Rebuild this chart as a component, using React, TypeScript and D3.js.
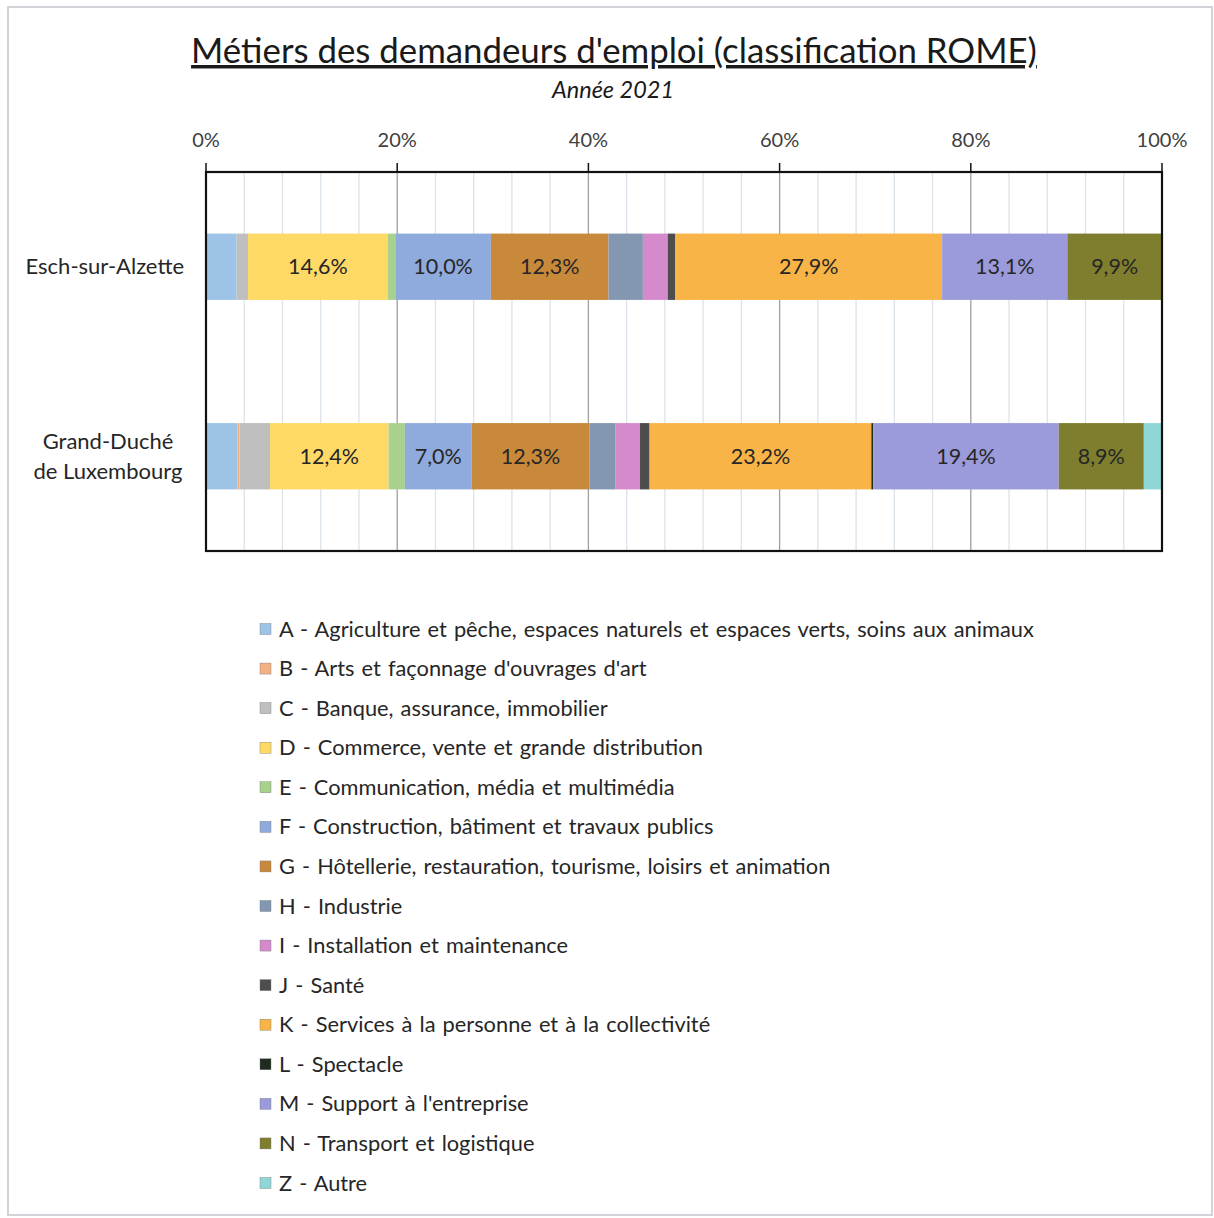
import React from 'react'
import * as d3 from 'd3'

const W = 1214
const H = 1218
const FONT = 'Lato, "Open Sans", sans-serif'

// categories (y axis)
const categories = ['Esch-sur-Alzette', 'Grand-Duché de Luxembourg']
const categoryLines = [['Esch-sur-Alzette'], ['Grand-Duché', 'de Luxembourg']]

// ROME codes, labels, colours
const codes = ['A', 'B', 'C', 'D', 'E', 'F', 'G', 'H', 'I', 'J', 'K', 'L', 'M', 'N', 'Z']
const legendLabels = [
  'A - Agriculture et pêche, espaces naturels et espaces verts, soins aux animaux',
  "B - Arts et façonnage d'ouvrages d'art",
  'C - Banque, assurance, immobilier',
  'D - Commerce, vente et grande distribution',
  'E - Communication, média et multimédia',
  'F - Construction, bâtiment et travaux publics',
  'G - Hôtellerie, restauration, tourisme, loisirs et animation',
  'H - Industrie',
  'I - Installation et maintenance',
  'J - Santé',
  'K - Services à la personne et à la collectivité',
  'L - Spectacle',
  "M - Support à l'entreprise",
  'N - Transport et logistique',
  'Z - Autre',
]
const colors = [
  '#9DC3E6', '#F4B183', '#BFBFBF', '#FFD966', '#A9D18E', '#8FAADC', '#C9893A',
  '#8497B0', '#D58BCB', '#4D4D4D', '#F9B447', '#1E2B1E', '#9B9BDB', '#7E7E2E', '#8FD6D6',
]

// shares in %
const eschValues = [3.2, 0.0, 1.2, 14.6, 0.8, 10.0, 12.3, 3.6, 2.6, 0.8, 27.9, 0.0, 13.1, 9.9, 0.0]
const gdlValues = [3.3, 0.2, 3.2, 12.4, 1.7, 7.0, 12.3, 2.7, 2.6, 1.0, 23.2, 0.2, 19.4, 8.9, 1.9]
const seriesValues = [eschValues, gdlValues]

// only these segments carry a value label
const labeledCodes = ['D', 'F', 'G', 'K', 'M', 'N']

const majorTicks = [0, 20, 40, 60, 80, 100]
const minorTicks = d3.range(0, 101, 4)

export default function App() {
  const plot = { left: 206, right: 1162, top: 172, bottom: 551 }

  const x = d3.scaleLinear().domain([0, 100]).range([plot.left, plot.right])
  const y = d3
    .scaleBand<string>()
    .domain(categories)
    .range([plot.top, plot.bottom])
    .paddingInner(0.65)
    .paddingOuter(0.325)

  const rows = categories.map((c, i) => {
    const row: any = { category: c }
    codes.forEach((k, j) => (row[k] = seriesValues[i][j]))
    return row
  })
  const stacked = d3.stack<any>().keys(codes)(rows)

  const legendY = d3.scaleLinear().domain([0, codes.length - 1]).range([629, 1183])

  return (
    <svg
      width={W}
      height={H}
      style={{ position: 'absolute', left: 0, top: 0, background: '#fff' }}
      fontFamily={FONT}
    >
      {/* outer frame */}
      <rect x={8} y={7} width={1204} height={1208} fill="#fff" stroke="#D0D4D8" strokeWidth={2} />

      {/* title */}
      <text
        x={614}
        y={63}
        textAnchor="middle"
        fontSize={34.8}
        fill="#1a1a1a"
        style={{ textDecoration: 'underline' }}
      >
        Métiers des demandeurs d'emploi (classification ROME)
      </text>
      <text x={613} y={98} textAnchor="middle" fontSize={23.5} fontStyle="italic" fill="#1a1a1a">
        Année 2021
      </text>

      {/* grid */}
      {minorTicks.map((t) => (
        <line
          key={'m' + t}
          x1={x(t)}
          x2={x(t)}
          y1={plot.top}
          y2={plot.bottom}
          stroke={t % 20 === 0 ? '#A0A0A0' : '#DCE3EB'}
          strokeWidth={1.3}
        />
      ))}

      {/* bars */}
      {stacked.map((s, j) => (
        <g key={s.key}>
          {s.map((d, i) => {
            const w = x(d[1]) - x(d[0])
            if (w <= 0) return null
            const cat = categories[i]
            return (
              <rect
                key={cat}
                x={x(d[0])}
                y={y(cat)}
                width={w}
                height={y.bandwidth()}
                fill={colors[j]}
              />
            )
          })}
        </g>
      ))}

      {/* value labels */}
      {stacked.map((s, j) =>
        labeledCodes.includes(s.key)
          ? s.map((d, i) => {
              const cat = categories[i]
              const v = seriesValues[i][j]
              return (
                <text
                  key={s.key + cat}
                  x={(x(d[0]) + x(d[1])) / 2}
                  y={(y(cat) as number) + y.bandwidth() / 2}
                  dy="0.35em"
                  textAnchor="middle"
                  fontSize={21.5}
                  fill="#262626"
                >
                  {v.toFixed(1).replace('.', ',')}%
                </text>
              )
            })
          : null
      )}

      {/* plot frame + top axis ticks */}
      <rect
        x={plot.left}
        y={plot.top}
        width={plot.right - plot.left}
        height={plot.bottom - plot.top}
        fill="none"
        stroke="#111"
        strokeWidth={2.2}
      />
      {majorTicks.map((t) => (
        <g key={'t' + t}>
          <line x1={x(t)} x2={x(t)} y1={plot.top - 9} y2={plot.top} stroke="#111" strokeWidth={1.5} />
          <text x={x(t)} y={147} textAnchor="middle" fontSize={20} fill="#404040">
            {t}%
          </text>
        </g>
      ))}

      {/* category labels */}
      {categories.map((c, i) => {
        const lines = categoryLines[i]
        const cy = (y(c) as number) + y.bandwidth() / 2
        const multi = lines.length > 1
        return lines.map((ln, k) => (
          <text
            key={c + k}
            x={multi ? 108 : 184}
            y={cy + (k - (lines.length - 1) / 2) * 30}
            dy="0.35em"
            textAnchor={multi ? 'middle' : 'end'}
            fontSize={22}
            fill="#262626"
          >
            {ln}
          </text>
        ))
      })}

      {/* legend */}
      {codes.map((k, i) => (
        <g key={'l' + k} transform={`translate(260,${legendY(i)})`}>
          <rect x={0} y={-5.5} width={11} height={11} fill={colors[i]} stroke="#777" strokeWidth={0.4} />
          <text x={19} y={0} dy="0.35em" fontSize={21.8} wordSpacing={1.5} fill="#262626">
            {legendLabels[i]}
          </text>
        </g>
      ))}
    </svg>
  )
}
